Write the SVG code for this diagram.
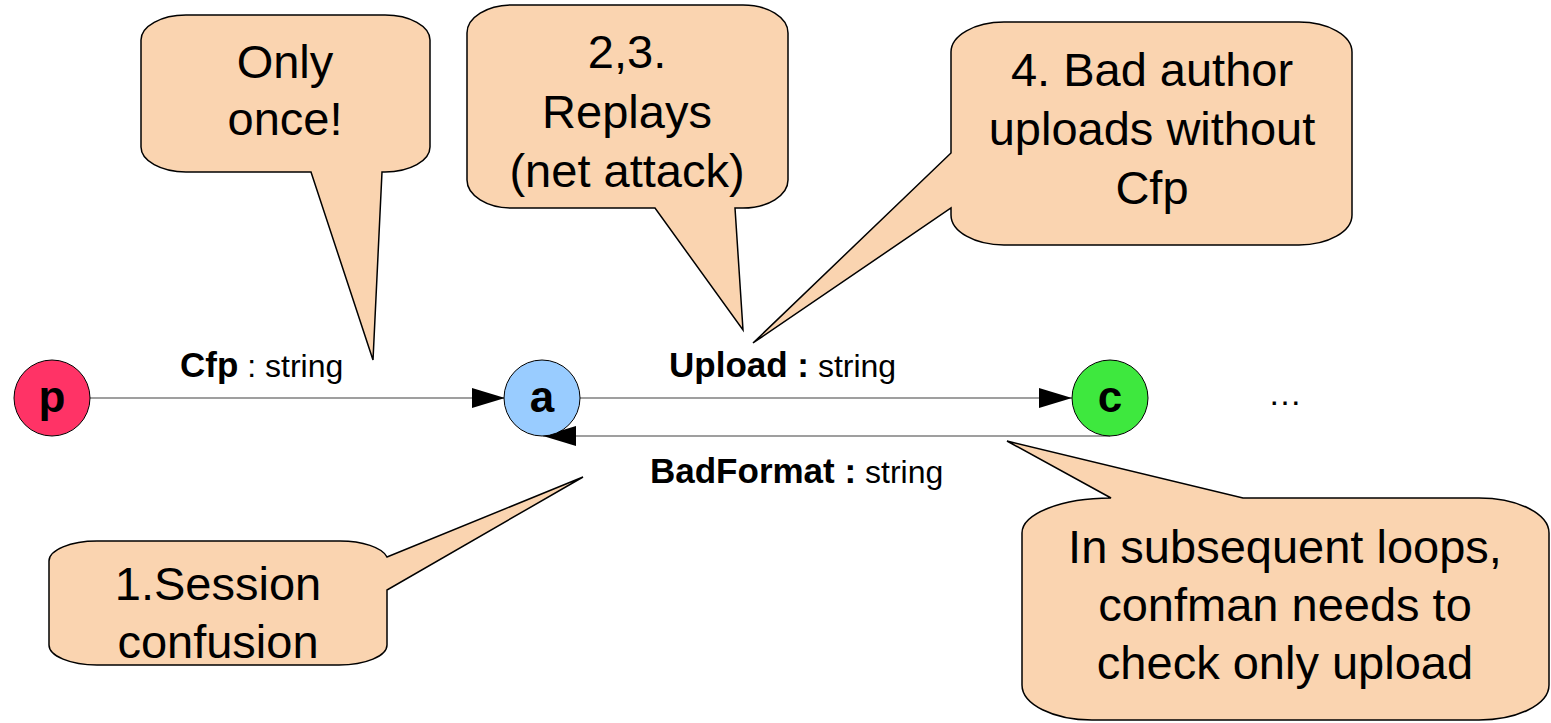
<svg xmlns="http://www.w3.org/2000/svg" width="1551" height="723" viewBox="0 0 1551 723">
  <style>
    .callout { fill: #fad4b0; stroke: #000; stroke-width: 1.5; stroke-linejoin: miter; }
    .note { font-family: "Liberation Sans", Arial, sans-serif; font-size: 47px; fill: #000; text-anchor: middle; }
    .node { stroke: #000; stroke-width: 1; }
    .nodelabel { font-family: "Liberation Sans", Arial, sans-serif; font-size: 44px; font-weight: bold; fill: #000; text-anchor: middle; }
    .edge { stroke: #7f7f7f; stroke-width: 1.5; fill: none; }
    .lbl { font-family: "Liberation Sans", Arial, sans-serif; fill: #000; }
    .b { font-weight: bold; font-size: 35px; }
    .r { font-weight: normal; font-size: 32px; }
  </style>
  <defs>
    <marker id="head" markerUnits="userSpaceOnUse" markerWidth="33" markerHeight="22" refX="33" refY="11" orient="auto">
      <path d="M0,1 L33,11 L0,21 Z" fill="#000"/>
    </marker>
  </defs>

  <rect width="1551" height="723" fill="#fff"/>

  <!-- connectors and their labels -->
  <g id="connectors">
    <line class="edge" x1="90" y1="398" x2="505" y2="398" marker-end="url(#head)"/>
    <line class="edge" x1="580" y1="398" x2="1072" y2="398" marker-end="url(#head)"/>
    <line class="edge" x1="1110" y1="436" x2="543" y2="436" marker-end="url(#head)"/>
    <text class="lbl" x="180" y="377"><tspan class="b">Cfp</tspan><tspan class="r"> : string</tspan></text>
    <text class="lbl" x="669" y="377"><tspan class="b">Upload :</tspan><tspan class="r"> string</tspan></text>
    <text class="lbl" x="650" y="483"><tspan class="b">BadFormat :</tspan><tspan class="r"> string</tspan></text>
  </g>

  <!-- nodes -->
  <g id="node-p">
    <circle class="node" cx="52" cy="398" r="38" fill="#ff3366"/>
    <text class="nodelabel" x="52" y="412">p</text>
  </g>
  <g id="node-a">
    <circle class="node" cx="542" cy="398" r="38" fill="#99ccff"/>
    <text class="nodelabel" x="542" y="412">a</text>
  </g>
  <g id="node-c">
    <circle class="node" cx="1110" cy="398" r="38" fill="#3ee83e"/>
    <text class="nodelabel" x="1110" y="412">c</text>
  </g>
  <g id="ellipsis">
    <text class="lbl" x="1285" y="405" font-size="34" text-anchor="middle">…</text>
  </g>

  <!-- callouts -->
  <g id="callout-once">
    <path class="callout" d="M186 15 H385 A45 25 0 0 1 430 40 V147 A45 25 0 0 1 385 172 H382 L373 360 L311 172 H186 A45 25 0 0 1 141 147 V40 A45 25 0 0 1 186 15 Z"/>
    <text class="note" x="285" y="78">Only</text>
    <text class="note" x="285" y="135">once!</text>
  </g>
  <g id="callout-replays">
    <path class="callout" d="M512 5 H743 A45 28 0 0 1 788 33 V180 A45 28 0 0 1 743 208 H735 L743 330 L655 208 H512 A45 28 0 0 1 467 180 V33 A45 28 0 0 1 512 5 Z"/>
    <text class="note" x="627" y="68">2,3.</text>
    <text class="note" x="627" y="128">Replays</text>
    <text class="note" x="627" y="187">(net attack)</text>
  </g>
  <g id="callout-bad-author">
    <path class="callout" d="M1004 22 H1299 A53 30 0 0 1 1352 52 V215 A53 30 0 0 1 1299 245 H1004 A53 30 0 0 1 951 215 V208 L753 343 L951 153 V52 A53 30 0 0 1 1004 22 Z"/>
    <text class="note" x="1152" y="86">4. Bad author</text>
    <text class="note" x="1152" y="145">uploads without</text>
    <text class="note" x="1152" y="204">Cfp</text>
  </g>
  <g id="callout-session">
    <path class="callout" d="M97 541 H339 A48 20 0 0 1 387 557 L583 477 L387 590 V645 A48 20 0 0 1 339 665 H97 A48 20 0 0 1 49 645 V561 A48 20 0 0 1 97 541 Z"/>
    <text class="note" x="218" y="600">1.Session</text>
    <text class="note" x="218" y="658">confusion</text>
  </g>
  <g id="callout-loops">
    <path class="callout" d="M1022 533 A89 35 0 0 1 1111 498 L1007 441 L1243 498 H1479 A70 35 0 0 1 1549 533 V685 A70 35 0 0 1 1479 720 H1092 A70 35 0 0 1 1022 685 Z"/>
    <text class="note" x="1285" y="563">In subsequent loops,</text>
    <text class="note" x="1285" y="621">confman needs to</text>
    <text class="note" x="1285" y="679">check only upload</text>
  </g>
</svg>
